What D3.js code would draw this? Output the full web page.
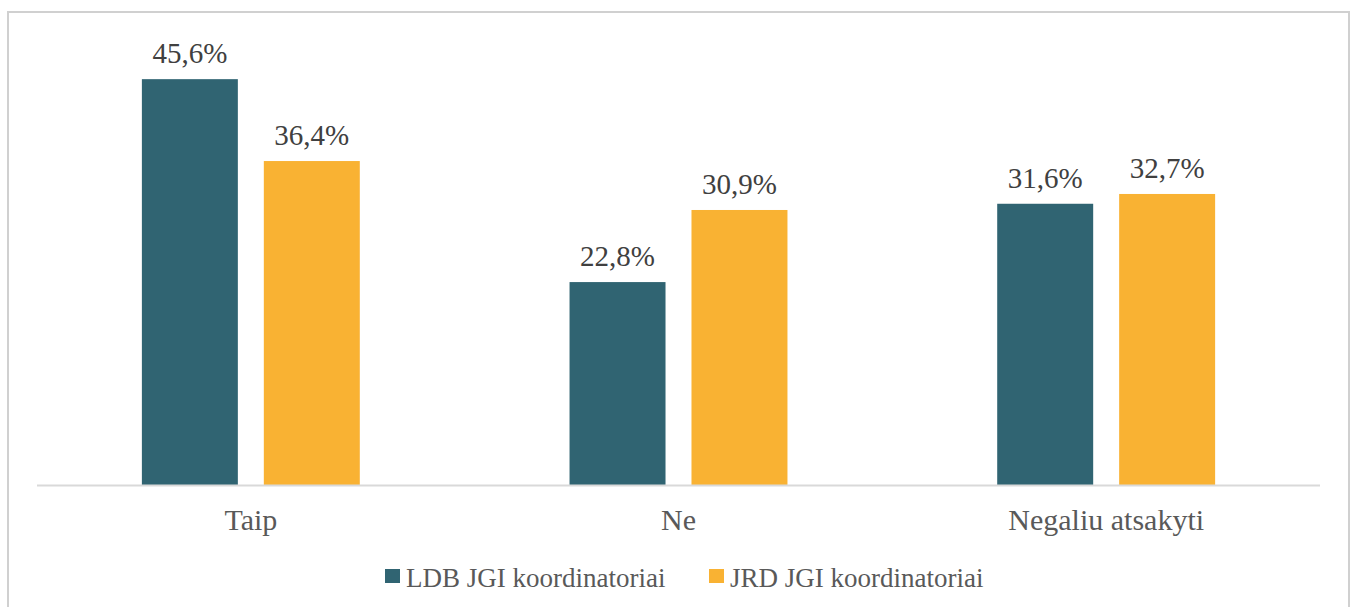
<!DOCTYPE html>
<html>
<head>
<meta charset="utf-8">
<script src="https://cdn.jsdelivr.net/npm/d3@7"></script>
<style>
    body { margin: 0; background: #fff; }
    svg { display: block; }
</style>
</head>
<body>
<div id="chart"></div>
<script>
// Chart data.
var categories = ["Taip", "Ne", "Negaliu atsakyti"];
var seriesNames = ["LDB JGI koordinatoriai", "JRD JGI koordinatoriai"];
var ldbValues = [45.6, 22.8, 31.6];
var jrdValues = [36.4, 30.9, 32.7];
var colors = ["#306472", "#f9b233"];

var width = 1355, height = 607;
var plot = { left: 37, right: 1320, top: 40, bottom: 485 };

var svg = d3.select("#chart")
    .append("svg")
    .attr("width", width)
    .attr("height", height);

// Outer frame.
svg.append("rect")
    .attr("x", 8)
    .attr("y", 12)
    .attr("width", 1341)
    .attr("height", 610)
    .attr("fill", "none")
    .attr("stroke", "#d0d0d0")
    .attr("stroke-width", 2);

var rows = categories.map(function(c, i) {
    return { category: c, values: [ldbValues[i], jrdValues[i]] };
});

var x0 = d3.scaleBand()
    .domain(categories)
    .range([plot.left, plot.right])
    .padding(0);

var x1 = d3.scaleBand()
    .domain([0, 1])
    .range([0, x0.bandwidth()])
    .paddingInner(0.213)
    .paddingOuter(0.86);

var y = d3.scaleLinear()
    .domain([0, 50])
    .range([plot.bottom, plot.top]);

var fmt = function(v) { return v.toFixed(1).replace(".", ",") + "%"; };

var groups = svg.selectAll(".group")
    .data(rows)
    .enter()
    .append("g")
    .attr("transform", function(d) { return "translate(" + x0(d.category) + ",0)"; });

var bars = groups.selectAll(".bar")
    .data(function(d) { return d.values.map(function(v, i) { return { v: v, s: i }; }); })
    .enter();

bars.append("rect")
    .attr("x", function(d) { return x1(d.s); })
    .attr("y", function(d) { return y(d.v); })
    .attr("width", x1.bandwidth())
    .attr("height", function(d) { return plot.bottom - y(d.v); })
    .attr("fill", function(d) { return colors[d.s]; });

bars.append("text")
    .attr("x", function(d) { return x1(d.s) + x1.bandwidth() / 2; })
    .attr("y", function(d) { return y(d.v) - 16; })
    .attr("text-anchor", "middle")
    .style("font-family", "'Liberation Serif', serif")
    .style("font-size", "29px")
    .attr("fill", "#404040")
    .text(function(d) { return fmt(d.v); });

// Baseline
svg.append("line")
    .attr("x1", plot.left)
    .attr("x2", plot.right)
    .attr("y1", plot.bottom + 0.5)
    .attr("y2", plot.bottom + 0.5)
    .attr("stroke", "#d9d9d9")
    .attr("stroke-width", 2);

var xAxis = svg.append("g")
    .attr("transform", "translate(0," + plot.bottom + ")")
    .call(d3.axisBottom(x0).tickSize(0).tickPadding(24));
xAxis.select(".domain").remove();
xAxis.selectAll("text")
    .style("font-family", "'Liberation Serif', serif")
    .style("font-size", "30px")
    .attr("fill", "#595959");

// Legend
var legendX = [385, 709];
var legend = svg.selectAll(".legend")
    .data(seriesNames)
    .enter()
    .append("g")
    .attr("transform", function(d, i) { return "translate(" + legendX[i] + ",569)"; });
legend.append("rect")
    .attr("width", 15)
    .attr("height", 14)
    .attr("fill", function(d, i) { return colors[i]; });
legend.append("text")
    .attr("x", 21)
    .attr("y", 18)
    .style("font-family", "'Liberation Serif', serif")
    .style("font-size", "27px")
    .attr("fill", "#595959")
    .text(function(d) { return d; });
</script>
</body>
</html>
